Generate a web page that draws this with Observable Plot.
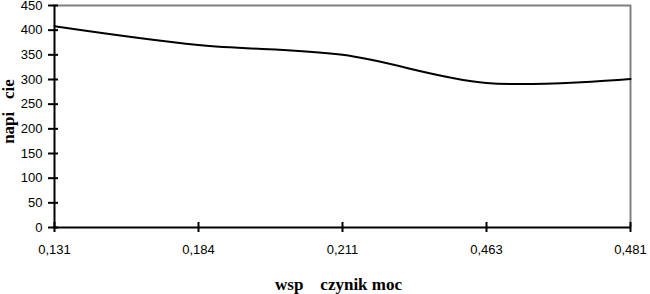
<!DOCTYPE html>
<html>
<head>
<meta charset="utf-8">
<script src="https://cdn.jsdelivr.net/npm/d3@7"></script>
<script src="https://cdn.jsdelivr.net/npm/@observablehq/plot@0.6"></script>
<style>
  html, body { margin: 0; padding: 0; background: #fff; }
  svg text { white-space: pre; }
</style>
</head>
<body>
<div id="chart"></div>
<script>
const categories = ["0,131", "0,184", "0,211", "0,463", "0,481"];
const values = [408, 370, 350, 293, 301];
const yTicks = [0, 50, 100, 150, 200, 250, 300, 350, 400, 450];
const xLabel = "wsp    czynik moc";
const yLabel = "napi   cie";

const data = categories.map((c, i) => ({x: c, y: values[i]}));

const chart = Plot.plot({
  width: 650,
  height: 294,
  marginLeft: 53,
  marginRight: 19,
  marginTop: 5,
  marginBottom: 67,
  style: {fontFamily: "'Liberation Sans', Arial, sans-serif", fontSize: "13px", background: "#fff", color: "#000"},
  x: {type: "point", domain: categories, padding: 0},
  y: {domain: [0, 450]},
  marks: [
    Plot.ruleY([450], {stroke: "#808080", strokeWidth: 2}),
    Plot.ruleX([categories[categories.length - 1]], {stroke: "#808080", strokeWidth: 2}),
    Plot.axisY({ticks: yTicks, tickSize: 10, tickPadding: 6, dx: 5, label: null, fontSize: 13, strokeWidth: 2}),
    Plot.axisX({tickSize: 10, tickPadding: 12, dy: -5, label: null, fontSize: 13, strokeWidth: 2}),
    Plot.ruleX([categories[0]], {stroke: "#000", strokeWidth: 2}),
    Plot.ruleY([0], {stroke: "#000", strokeWidth: 2}),
    Plot.line(data, {x: "x", y: "y", curve: "catmull-rom", stroke: "#000", strokeWidth: 2}),
    Plot.text([xLabel], {frameAnchor: "bottom", lineAnchor: "bottom", textAnchor: "middle", dx: -4, dy: 62, fontFamily: "'Liberation Serif', 'Times New Roman', serif", fontWeight: "bold", fontSize: 17, fill: "#000"}),
    Plot.text([yLabel], {frameAnchor: "left", lineAnchor: "bottom", textAnchor: "middle", rotate: -90, dx: -40, dy: -5, fontFamily: "'Liberation Serif', 'Times New Roman', serif", fontWeight: "bold", fontSize: 17, fill: "#000"})
  ]
});
document.getElementById("chart").appendChild(chart);
</script>
</body>
</html>
